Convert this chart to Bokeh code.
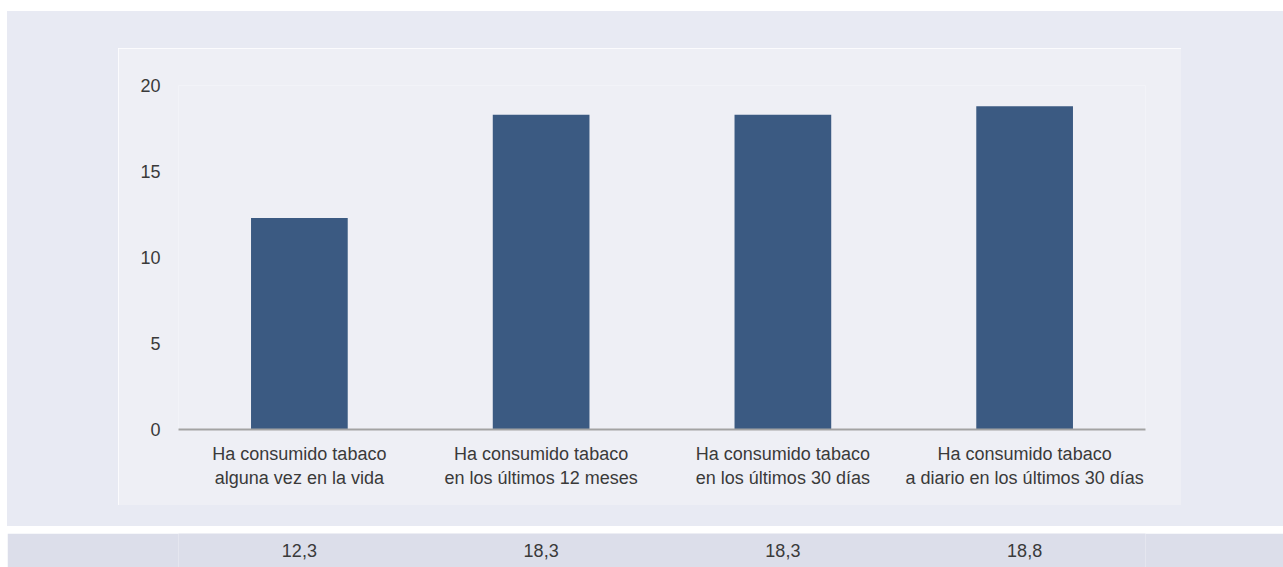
from bokeh.plotting import figure
from bokeh.models import FactorRange, Range1d, FixedTicker, ColumnDataSource, Spacer
from bokeh.layouts import column, row
from bokeh.core.properties import value
from bokeh.embed import file_html
from bokeh.resources import INLINE

categories = [
    "Ha consumido tabaco\nalguna vez en la vida",
    "Ha consumido tabaco\nen los últimos 12 meses",
    "Ha consumido tabaco\nen los últimos 30 días",
    "Ha consumido tabaco\na diario en los últimos 30 días",
]
values = [12.3, 18.3, 18.3, 18.8]
y_ticks = [0, 5, 10, 15, 20]
value_labels = [f"{v:.1f}".replace(".", ",") for v in values]

OUTER = "#e8eaf3"
INNER = "#eeeff5"
STRIP = "#dcdeea"
BAR = "#3b5a82"
TEXT = "#3a3a3a"
FONT = "Liberation Sans"

src = ColumnDataSource(dict(cat=categories, val=values, lab=value_labels))

p = figure(width=1063, height=457, x_range=FactorRange(*categories), y_range=Range1d(0, 20),
           output_backend="svg", toolbar_location=None,
           min_border_left=60, min_border_right=36, min_border_top=37, min_border_bottom=76)
p.border_fill_color = INNER
p.background_fill_color = INNER
p.outline_line_color = None
p.xgrid.visible = False
p.ygrid.visible = False

p.vbar(x="cat", top="val", width=0.4, source=src, fill_color=BAR, line_color=None)

p.yaxis.ticker = FixedTicker(ticks=y_ticks)
p.yaxis.axis_line_color = None
p.yaxis.major_tick_line_color = None
p.yaxis.minor_tick_line_color = None
p.yaxis.major_tick_in = 0
p.yaxis.major_tick_out = 0
p.yaxis.major_label_standoff = 18
p.yaxis.major_label_text_font = FONT
p.yaxis.major_label_text_font_size = "18px"
p.yaxis.major_label_text_color = TEXT

p.xaxis.axis_line_color = "#a3a3a3"
p.xaxis.axis_line_width = 2
p.xaxis.major_tick_line_color = None
p.xaxis.minor_tick_line_color = None
p.xaxis.major_tick_in = 0
p.xaxis.major_tick_out = 0
p.xaxis.major_label_standoff = 14
p.xaxis.major_label_text_font = FONT
p.xaxis.major_label_text_font_size = "18px"
p.xaxis.major_label_text_color = TEXT
p.xaxis.major_label_orientation = "horizontal"

s = figure(width=1276, height=34, x_range=p.x_range, y_range=Range1d(0, 1),
           x_axis_type=None, y_axis_type=None,
           output_backend="svg", toolbar_location=None,
           min_border_left=171, min_border_right=138, min_border_top=0, min_border_bottom=0)
s.border_fill_color = STRIP
s.background_fill_color = STRIP
s.outline_line_color = None
s.xgrid.visible = False
s.ygrid.visible = False
s.text(x="cat", y=0.5, text="lab", source=src, text_align="center", text_baseline="middle",
       text_font=value(FONT), text_font_size="18px", text_color=TEXT)

bg = {"background-color": OUTER}
outer = column(
    Spacer(width=1276, height=37, styles=bg),
    row(Spacer(width=111, height=457, styles=bg), p, Spacer(width=102, height=457, styles=bg), spacing=0),
    Spacer(width=1276, height=21, styles=bg),
    spacing=0,
)

layout = column(
    Spacer(width=1283, height=11),
    row(Spacer(width=7, height=515), outer, spacing=0),
    Spacer(width=1283, height=7),
    row(Spacer(width=7, height=34), s, spacing=0),
    spacing=0,
)

open("out.html", "w").write(file_html(layout, INLINE))
